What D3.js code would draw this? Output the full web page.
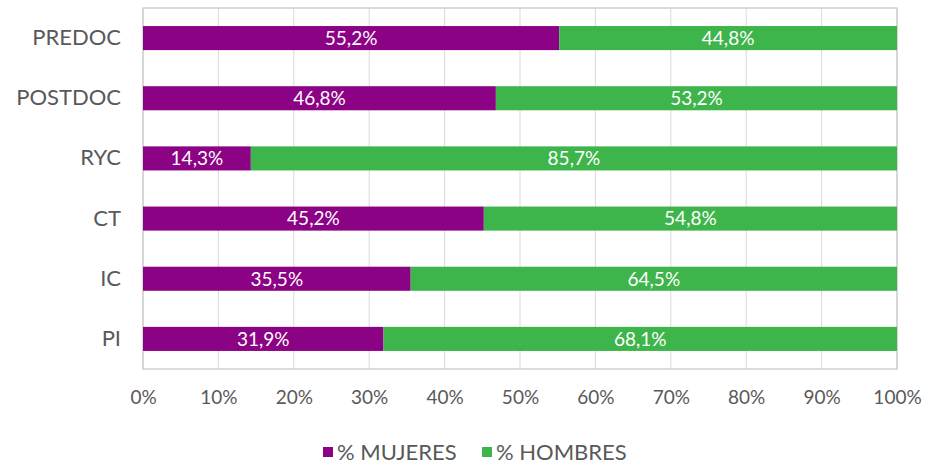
<!DOCTYPE html>
<html lang="es">
<head>
<meta charset="utf-8">
<title>Mujeres y hombres por categoría</title>
<script src="https://cdn.jsdelivr.net/npm/d3@7"></script>
<style>
  html, body { margin: 0; padding: 0; background: #fff; }
  text { font-family: Lato, "Open Sans", sans-serif; }
</style>
</head>
<body>
<script>
var categories = ["PREDOC", "POSTDOC", "RYC", "CT", "IC", "PI"];
var mujeres = [55.2, 46.8, 14.3, 45.2, 35.5, 31.9];
var hombres = [44.8, 53.2, 85.7, 54.8, 64.5, 68.1];
var seriesNames = ["% MUJERES", "% HOMBRES"];
var ticks = [0, 10, 20, 30, 40, 50, 60, 70, 80, 90, 100];

var w = 927, h = 464;
var plotLeft = 143, plotRight = 897, plotTop = 8, plotBottom = 369;
var colors = ["#8c0284", "#3db54a"];
var textGrey = "#595959";

var svg = d3.select("body").append("svg")
  .attr("width", w)
  .attr("height", h);

var x = d3.scaleLinear().domain([0, 100]).range([plotLeft, plotRight]);
var y = d3.scaleBand().domain(categories).range([plotTop, plotBottom]).paddingInner(0.6).paddingOuter(0.3);

// grid
svg.append("g").selectAll("line")
  .data(ticks)
  .enter().append("line")
  .attr("x1", function(d) { return x(d); })
  .attr("x2", function(d) { return x(d); })
  .attr("y1", plotTop)
  .attr("y2", plotBottom)
  .attr("stroke", "#d9d9d9")
  .attr("stroke-width", 1);

svg.append("rect")
  .attr("x", plotLeft)
  .attr("y", plotTop)
  .attr("width", plotRight - plotLeft)
  .attr("height", plotBottom - plotTop)
  .attr("fill", "none")
  .attr("stroke", "#d0d0d0")
  .attr("stroke-width", 1.5);

var rows = categories.map(function(c, i) {
  return { cat: c, m: mujeres[i], h: hombres[i] };
});

var fmt = function(v) { return v.toFixed(1).replace(".", ",") + "%"; };

// women bars
svg.append("g").selectAll("rect")
  .data(rows)
  .enter().append("rect")
  .attr("x", x(0))
  .attr("y", function(d) { return y(d.cat); })
  .attr("width", function(d) { return x(d.m) - x(0); })
  .attr("height", y.bandwidth())
  .attr("fill", colors[0]);

// men bars
svg.append("g").selectAll("rect")
  .data(rows)
  .enter().append("rect")
  .attr("x", function(d) { return x(d.m); })
  .attr("y", function(d) { return y(d.cat); })
  .attr("width", function(d) { return x(d.m + d.h) - x(d.m); })
  .attr("height", y.bandwidth())
  .attr("fill", colors[1]);

// value labels
var labels = svg.append("g")
  .attr("fill", "#fff")
  .attr("font-size", 19)
  .attr("text-anchor", "middle");

labels.selectAll("text.m")
  .data(rows)
  .enter().append("text")
  .attr("class", "m")
  .attr("x", function(d) { return (x(0) + x(d.m)) / 2; })
  .attr("y", function(d) { return y(d.cat) + y.bandwidth() / 2; })
  .attr("dy", "0.36em")
  .text(function(d) { return fmt(d.m); });

labels.selectAll("text.h")
  .data(rows)
  .enter().append("text")
  .attr("class", "h")
  .attr("x", function(d) { return (x(d.m) + x(d.m + d.h)) / 2; })
  .attr("y", function(d) { return y(d.cat) + y.bandwidth() / 2; })
  .attr("dy", "0.36em")
  .text(function(d) { return fmt(d.h); });

// y axis
var yAxis = svg.append("g")
  .attr("transform", "translate(" + (plotLeft - 22) + ",0)")
  .call(d3.axisLeft(y).tickSize(0).tickPadding(0));
yAxis.select(".domain").remove();
yAxis.selectAll("text")
  .attr("font-size", 22)
  .attr("fill", textGrey)
  .style("font-family", "Lato, 'Open Sans', sans-serif");

// x axis
var xAxis = svg.append("g")
  .attr("transform", "translate(0," + plotBottom + ")")
  .call(d3.axisBottom(x).tickValues(ticks).tickSize(0).tickPadding(22)
    .tickFormat(function(d) { return d + "%"; }));
xAxis.select(".domain").remove();
xAxis.selectAll("text")
  .attr("font-size", 19)
  .attr("fill", textGrey)
  .style("font-family", "Lato, 'Open Sans', sans-serif");

// legend
var legendX = [323, 482];
var legend = svg.append("g").selectAll("g")
  .data(seriesNames)
  .enter().append("g")
  .attr("transform", function(d, i) { return "translate(" + legendX[i] + ",452)"; });

legend.append("rect")
  .attr("x", 0)
  .attr("y", -5)
  .attr("width", 10)
  .attr("height", 10)
  .attr("fill", function(d, i) { return colors[i]; });

legend.append("text")
  .attr("x", 14)
  .attr("y", 0)
  .attr("dy", "0.36em")
  .attr("font-size", 22)
  .attr("fill", textGrey)
  .text(function(d) { return d; });
</script>
</body>
</html>
